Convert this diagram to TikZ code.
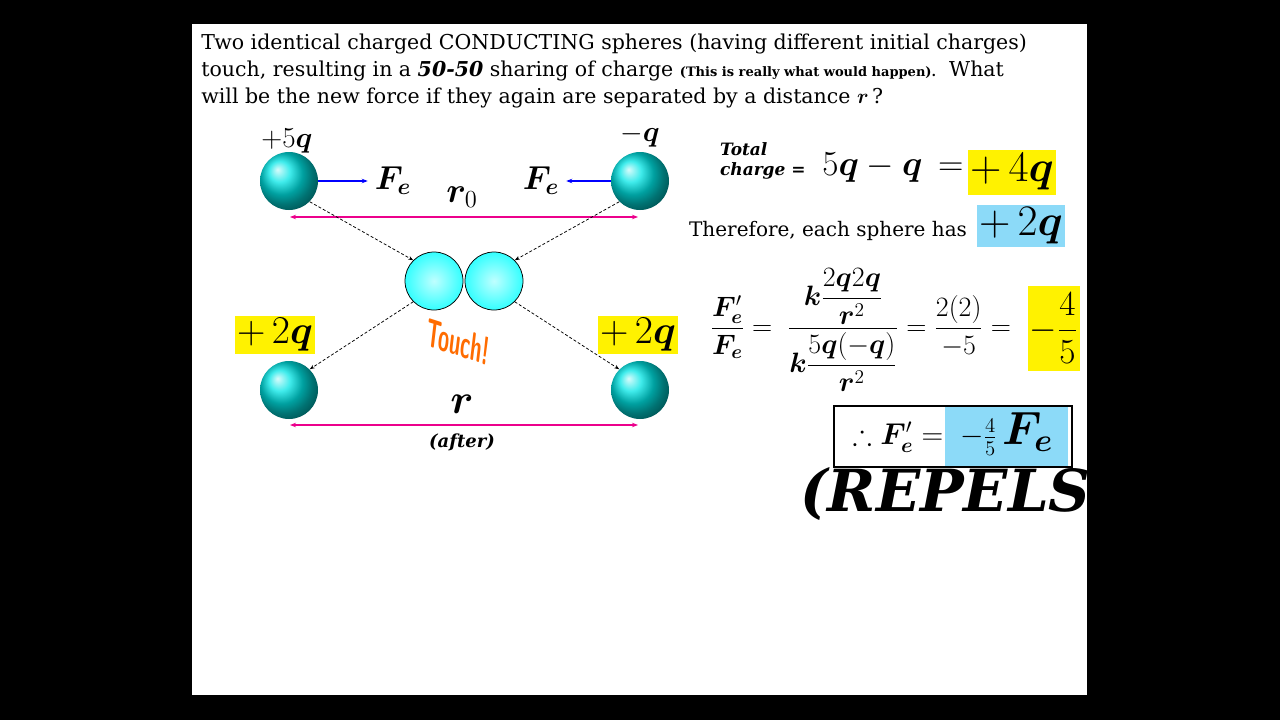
\documentclass[tikz,border=0pt]{standalone}
\usepackage{amsmath,amssymb,bm,graphicx}
\usepackage{fontspec}
\setmainfont{DejaVu Serif}
\usetikzlibrary{arrows.meta}
\tikzset{every picture/.style={line width=0.75pt}}
\tikzset{
  ball/.style={circle,minimum size=58pt,inner sep=0pt,ball color=cyan!80!teal},
  touchball/.style={circle,draw=black,minimum size=58pt,inner sep=0pt,inner color=cyan!25,outer color=cyan!80},
  chargebox/.style={fill=yellow,inner sep=2pt},
  sharebox/.style={fill=cyan!45,inner sep=2pt},
  force/.style={draw=blue,line width=1.5pt,-{Stealth[length=6pt]}},
  dist/.style={draw=magenta,line width=1.5pt,{Stealth[length=6pt]}-{Stealth[length=6pt]}},
  path/.style={densely dashed,-{Stealth[length=5pt]}}
}
\newcommand{\bigmath}[2]{\scalebox{#1}{$#2$}}
\begin{document}
\begin{tikzpicture}[x=1pt,y=1pt,yscale=-1,xscale=1]
\fontsize{20}{27}\selectfont
\useasboundingbox (0,0) rectangle (1280,720);
% slide
\fill[black] (0,0) rectangle (1280,720);
\fill[white] (192,24) rectangle (1087,695);

% question text
\node[anchor=north west,inner sep=0pt,align=left,font=\fontsize{20.5}{27}\selectfont] (qtext) at (201,34)
 {Two identical charged CONDUCTING spheres (having different initial charges)\\
  touch, resulting in a \textbf{\textit{50-50}} sharing of charge {\fontsize{13}{18}\selectfont\bfseries(This is really what would happen).}\ \ What\\
  will be the new force if they again are separated by a distance $\bm{r}$\,?};

% spheres before
\node[ball] (s1) at (289,181) {};
\node[ball] (s2) at (640,181) {};
% touching spheres
\node[touchball] (t1) at (434,281) {};
\node[touchball] (t2) at (494,281) {};
% spheres after
\node[ball] (a1) at (289,390) {};
\node[ball] (a2) at (640,390) {};

% charges
\node (c1) at (287,141) {\bigmath{1.4}{+5\bm{q}}};
\node (c2) at (640,136) {\bigmath{1.4}{-\bm{q}}};
\node[chargebox] (c3) at (275,335) {\bigmath{1.9}{+\,2\bm{q}}};
\node[chargebox] (c4) at (638,335) {\bigmath{1.9}{+\,2\bm{q}}};

% forces
\node (f1) at (393,181) {\bigmath{1.6}{\bm{F_e}}};
\node (f2) at (541,181) {\bigmath{1.6}{\bm{F_e}}};
\draw[force] (s1.east) -- (f1.west);
\draw[force] (s2.west) -- (f2.east);

% distances
\node (r0) at (462,197) {\bigmath{1.7}{\bm{r}_0}};
\coordinate (d1) at (290,217);
\coordinate (d2) at (638,217);
\draw[dist] (d1) -- (d2);
\node (r1) at (462,404) {\bigmath{2.0}{\bm{r}}};
\node (aft) at (462,442) {\fontsize{18}{22}\selectfont\bfseries\itshape(after)};
\coordinate (e1) at (290,425);
\coordinate (e2) at (638,425);
\draw[dist] (e1) -- (e2);

% motion
\draw[path] (s1.south east) -- (t1.north west);
\draw[path] (s2.south west) -- (t2.north east);
\draw[path] (t1.south west) -- (a1.north east);
\draw[path] (t2.south east) -- (a2.north west);

% touch label
\node[rotate=-18,xslant=-0.2,yscale=1.5,xscale=0.8,text=orange!85!red,font=\sffamily\bfseries\fontsize{26}{26}\selectfont] (touch) at (458,342) {Touch!};

% total charge
\node[anchor=west,align=left,font=\bfseries\itshape\fontsize{17}{20}\selectfont] (tot) at (713,161) {Total\\charge =};
\node (tq) at (893,168) {\bigmath{1.7}{5\bm{q}-\bm{q}\,=}};
\node[chargebox,minimum width=87pt,minimum height=45pt] (tq4) at (1012,172) {\bigmath{2.1}{+\,4\bm{q}}};
\node[anchor=east] (each) at (974,231) {Therefore, each sphere has};
\node[sharebox,minimum width=86pt,minimum height=42pt] (eq2) at (1021,226) {\bigmath{2.1}{+\,2\bm{q}}};

% ratio
\node[anchor=west,inner sep=0pt] (ratio) at (710,330) {\bigmath{1.35}{\dfrac{\bm{F}'_{\bm e}}{\bm{F_e}}=\;
  \dfrac{\bm{k}\dfrac{2\bm{q}2\bm{q}}{\bm{r}^2}}{\bm{k}\dfrac{5\bm{q}(-\bm{q})}{\bm{r}^2}}
  =\dfrac{2(2)}{-5}=}};
\node[chargebox,minimum height=85pt,anchor=east] (res) at (1080,328) {\bigmath{1.7}{-\dfrac{4}{5}}};

% answer
\fill[cyan!45] (945,405) rectangle (1068,466);
\node[draw=black,line width=2pt,minimum width=238pt,minimum height=61pt] (ans) at (953,436) {};
\node (ansq) at (953,434) {\bigmath{1.45}{\therefore\bm{F}'_{\bm e}=\;-\tfrac{4}{5}\,\mbox{\scalebox{1.55}{$\bm{F_e}$}}}};

% repels
\begin{scope}
\clip (192,24) rectangle (1087,695);
\node[anchor=base west,inner sep=0pt,font=\fontsize{58}{58}\selectfont] (rep) at (800,511) {\bfseries\itshape (REPELS)};
\end{scope}
\end{tikzpicture}
\end{document}
